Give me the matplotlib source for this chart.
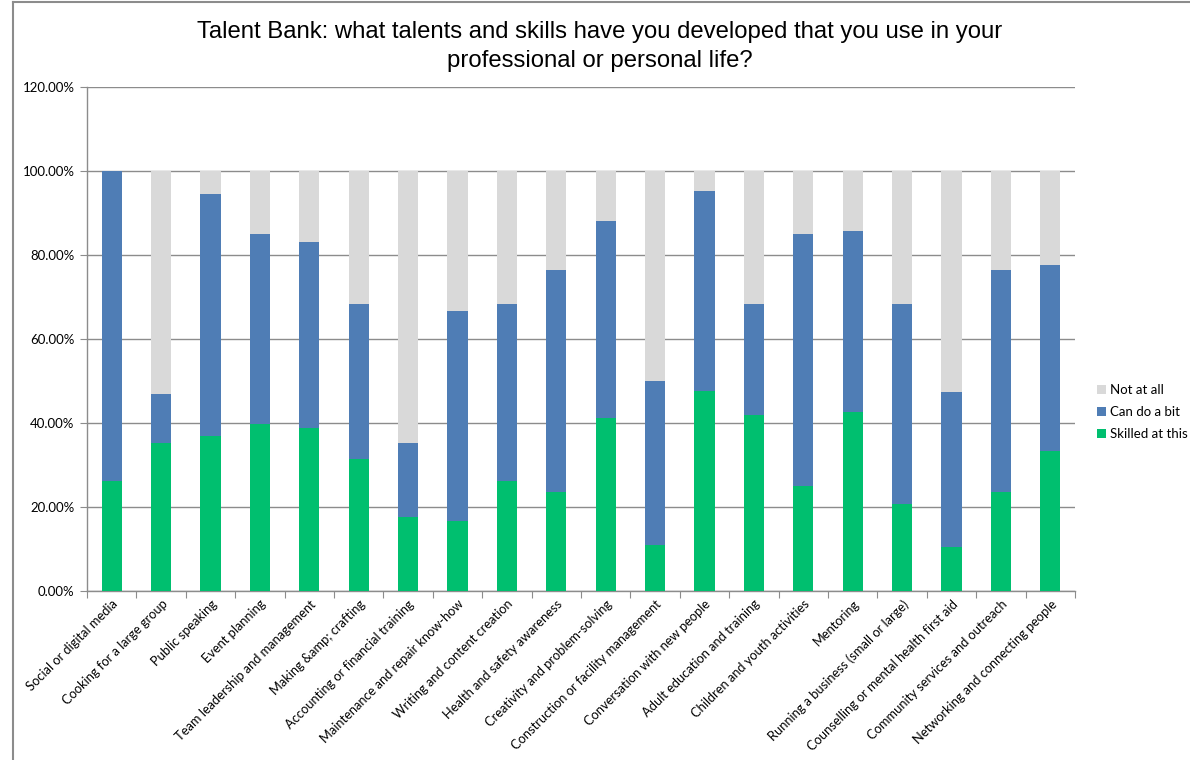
import numpy as np
import matplotlib.pyplot as plt
from matplotlib.lines import Line2D
from matplotlib.ticker import FuncFormatter

skills = ["Social or digital media", "Cooking for a large group", "Public speaking",
          "Event planning", "Team leadership and management", "Making &amp; crafting",
          "Accounting or financial training", "Maintenance and repair know-how",
          "Writing and content creation", "Health and safety awareness",
          "Creativity and problem-solving", "Construction or facility management",
          "Conversation with new people", "Adult education and training",
          "Children and youth activities", "Mentoring", "Running a business (small or large)",
          "Counselling or mental health first aid", "Community services and outreach",
          "Networking and connecting people"]

# percentages of respondents
skilled = [26.2, 35.2, 36.8, 39.8, 38.7, 31.4, 17.5, 16.6, 26.2, 23.5,
           41.1, 10.9, 47.6, 41.9, 25.0, 42.7, 20.8, 10.5, 23.5, 33.3]
can_do = [73.8, 11.7, 57.8, 45.1, 44.4, 36.9, 17.7, 50.0, 42.2, 53.0,
          47.1, 39.1, 47.6, 26.5, 59.9, 43.0, 47.5, 36.8, 53.0, 44.4]
not_at_all = [100 - s - c for s, c in zip(skilled, can_do)]

green = "#00BF6F"
blue = "#4F7DB5"
grey = "#D9D9D9"
axis_grey = "#8C8C8C"

plt.rcParams['font.family'] = ['Lato', 'DejaVu Sans']

fig = plt.figure(figsize=(11.9, 7.6), dpi=100)
ax = fig.add_axes([0.0731, 0.2224, 0.8303, 0.6631])

x = np.arange(len(skills))
w = 0.41
b1 = ax.bar(x, skilled, w, color=green, label="Skilled at this", zorder=3)
b2 = ax.bar(x, can_do, w, bottom=skilled, color=blue, label="Can do a bit", zorder=3)
b3 = ax.bar(x, not_at_all, w, bottom=np.add(skilled, can_do), color=grey,
            label="Not at all", zorder=3)

ax.set_xlim(-0.5, len(skills) - 0.5)
ax.set_ylim(0, 120)
ax.set_yticks(np.arange(0, 121, 20))
ax.yaxis.set_major_formatter(FuncFormatter(lambda v, p: f"{v:.2f}%"))
ax.grid(axis='y', color=axis_grey, linewidth=1, zorder=0)

# category boundaries carry the ticks, labels sit under the bars
ax.set_xticks(np.arange(-0.5, len(skills)), minor=False)
ax.set_xticklabels([])
ax.set_xticks(x, minor=True)
ax.set_xticklabels(skills, minor=True, rotation=45, ha='right', va='top',
                   rotation_mode='anchor', fontsize=9.3)
ax.tick_params(axis='x', which='minor', length=0, pad=5)
ax.tick_params(axis='x', which='major', length=5, color=axis_grey, direction='out')
ax.tick_params(axis='y', length=5, color=axis_grey, labelsize=9.5, pad=4)

for s in ['top', 'right']:
    ax.spines[s].set_visible(False)
for s in ['left', 'bottom']:
    ax.spines[s].set_color(axis_grey)
    ax.spines[s].set_linewidth(1)

fig.suptitle("Talent Bank: what talents and skills have you developed that you use in your\n"
             "professional or personal life?",
             x=0.504, y=0.972, fontsize=17.2, family=['Liberation Sans', 'DejaVu Sans'],
             linespacing=1.4)

ax.legend(handles=[b3, b2, b1], loc='center left', bbox_to_anchor=(1.01, 0.355),
          frameon=False, fontsize=9.5, handlelength=0.7, handleheight=0.7,
          handletextpad=0.3, labelspacing=0.75)

# outer chart border
fig.add_artist(Line2D([13 / 1190, 1], [1 - 1.5 / 760, 1 - 1.5 / 760], color=axis_grey, lw=1.5))
fig.add_artist(Line2D([13 / 1190, 13 / 1190], [0, 1 - 1.5 / 760], color=axis_grey, lw=1.5))

fig.savefig("out.png", dpi=100)
